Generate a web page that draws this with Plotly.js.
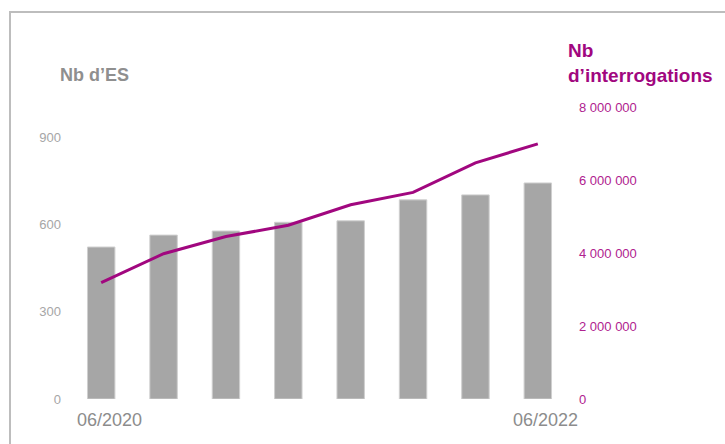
<!DOCTYPE html>
<html>
<head>
<meta charset="utf-8">
<script src="https://cdn.plot.ly/plotly-3.0.1.min.js"></script>
<style>
  html, body { margin: 0; padding: 0; background: #fff; }
  #frame { position: absolute; left: 9px; top: 11px; width: 800px; height: 500px;
           border-left: 2px solid #bdbdbd; border-top: 2px solid #bdbdbd; }
  #chart { position: absolute; left: 0; top: 0; width: 725px; height: 444px; }
</style>
</head>
<body>
<div id="frame"></div>
<div id="chart"></div>
<script>
// Data
const periods = ["06/2020", "p2", "p3", "p4", "p5", "p6", "p7", "06/2022"];
const nbES = [522, 563, 577, 607, 612, 684, 701, 742];
const nbInterrogations = [3190000, 3980000, 4450000, 4760000, 5320000, 5660000, 6470000, 6990000];
const leftTicks = [0, 300, 600, 900];
const rightTicks = [0, 2000000, 4000000, 6000000, 8000000];
const rightTickText = ["0", "2 000 000", "4 000 000", "6 000 000", "8 000 000"];
const xLabelFirst = "06/2020";
const xLabelLast = "06/2022";

const idx = periods.map((_, i) => i);
const gray = "#a6a6a6";
const magenta = "#a1077f";
const font = "Liberation Sans, Arial, sans-serif";

const traces = [
  {
    type: "bar", x: idx, y: nbES, width: 0.44,
    marker: { color: gray, line: { color: "#cfcfcf", width: 1 } },
    yaxis: "y", hoverinfo: "skip"
  },
  {
    type: "scatter", mode: "lines", x: idx, y: nbInterrogations,
    line: { color: magenta, width: 3 },
    yaxis: "y2", hoverinfo: "skip"
  }
];

const layout = {
  width: 725, height: 444,
  margin: { l: 70, r: 156, t: 107, b: 45 },
  paper_bgcolor: "rgba(0,0,0,0)", plot_bgcolor: "rgba(0,0,0,0)",
  showlegend: false,
  font: { family: font },
  xaxis: { range: [-0.5, 7.5], showticklabels: false, showgrid: false, zeroline: false, showline: false, ticks: "" },
  yaxis: {
    range: [0, 1003], tickvals: leftTicks, ticktext: leftTicks.map(String),
    showgrid: false, zeroline: false, showline: false, ticks: "",
    tickfont: { color: "#a6a6a6", size: 13, family: font }, ticklabelstandoff: 8
  },
  yaxis2: {
    overlaying: "y", side: "right", range: [0, 8000000],
    tickvals: rightTicks, ticktext: rightTickText,
    showgrid: false, zeroline: false, showline: false, ticks: "",
    tickfont: { color: "#b0228f", size: 13, family: font }, ticklabelstandoff: 9
  },
  annotations: [
    { text: xLabelFirst, xref: "x", yref: "paper", x: 0, y: 0, xshift: 8, yshift: -21,
      xanchor: "center", yanchor: "middle", showarrow: false,
      font: { size: 18, color: "#8c8c8c", family: font } },
    { text: xLabelLast, xref: "x", yref: "paper", x: 7, y: 0, xshift: 8, yshift: -21,
      xanchor: "center", yanchor: "middle", showarrow: false,
      font: { size: 18, color: "#8c8c8c", family: font } },
    { text: "<b>Nb d’ES</b>", xref: "paper", yref: "paper", x: 0, y: 1, xshift: -12, yshift: 32,
      xanchor: "left", yanchor: "middle", showarrow: false,
      font: { size: 18, color: "#8f8f8f", family: font } },
    { text: "<b>Nb<br>d’interrogations</b>", xref: "paper", yref: "paper", x: 1, y: 1, xshift: -3, yshift: 44,
      xanchor: "left", yanchor: "middle", align: "left", showarrow: false,
      font: { size: 19, color: magenta, family: font } }
  ]
};

Plotly.newPlot("chart", traces, layout, { staticPlot: true, displayModeBar: false });
</script>
</body>
</html>
